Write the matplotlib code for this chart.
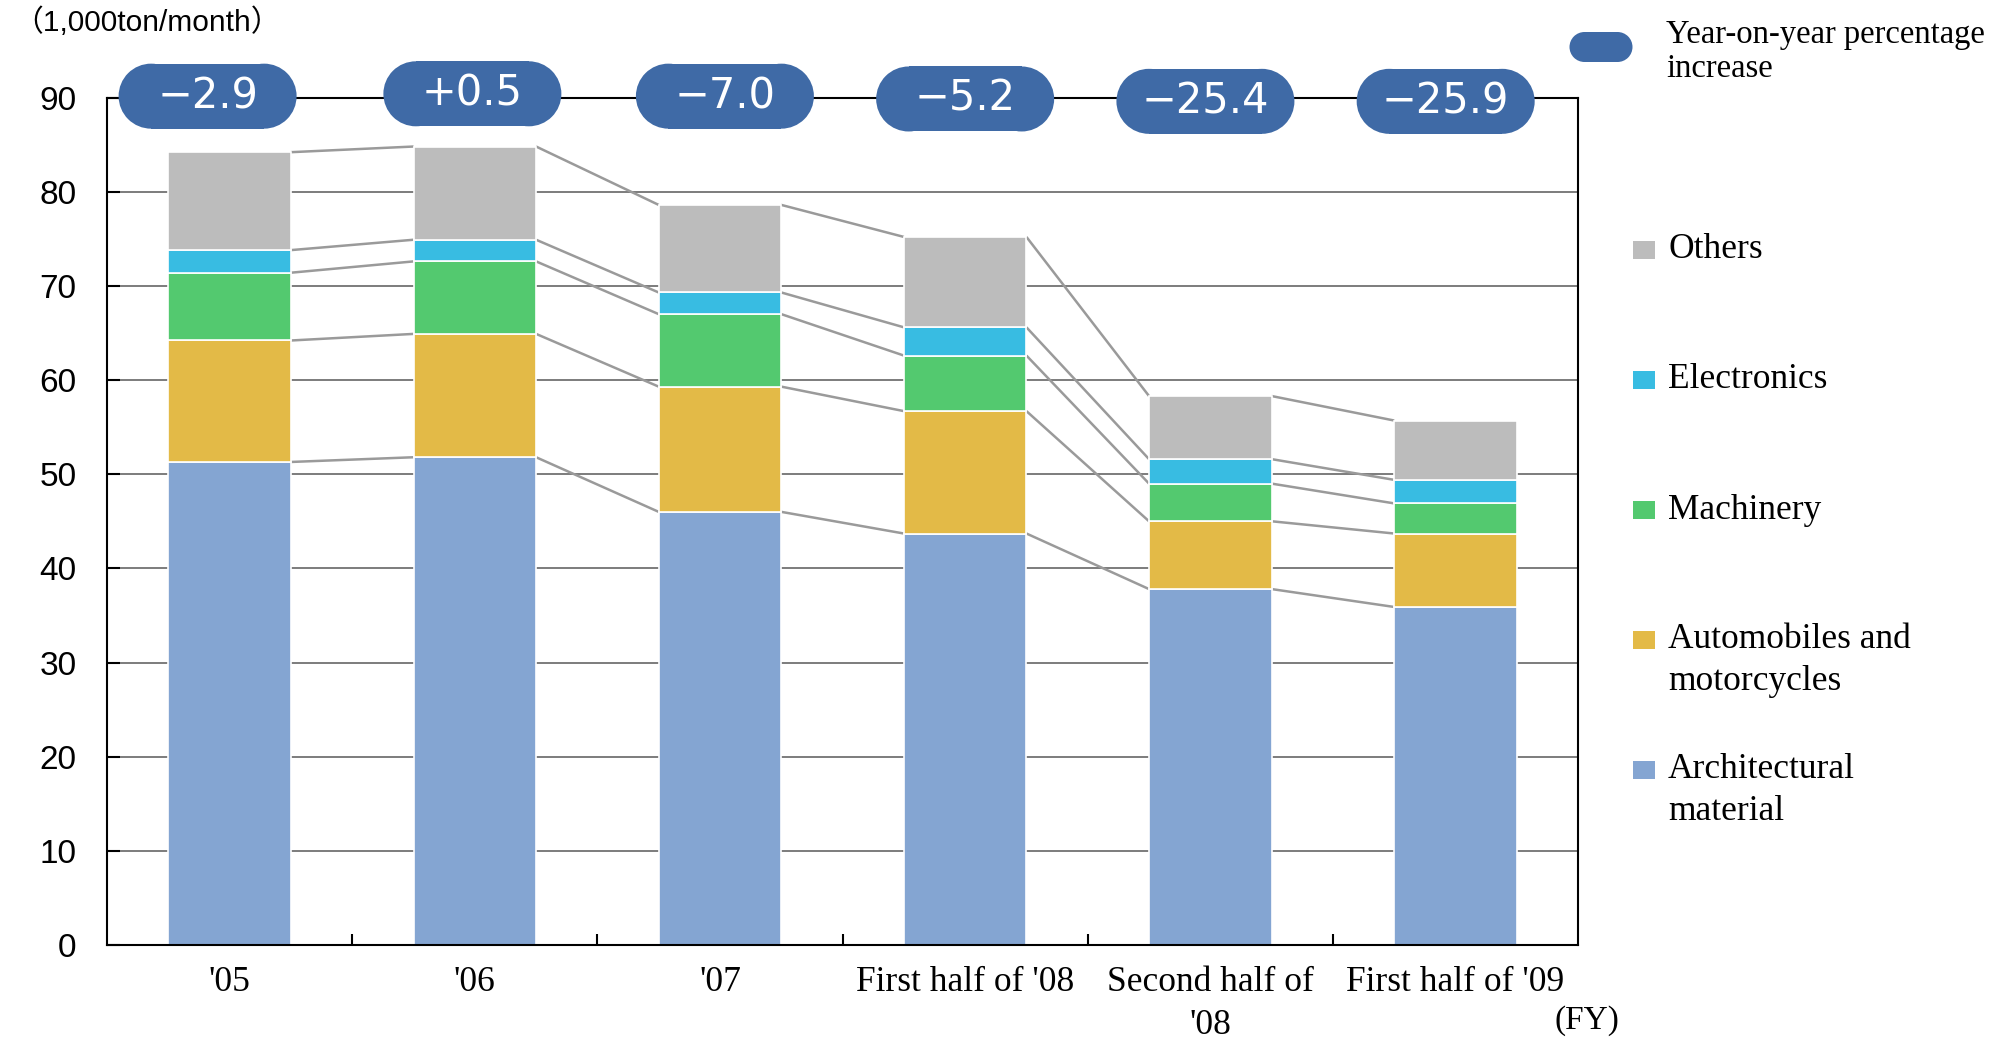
import matplotlib.pyplot as plt
from matplotlib.patches import Circle, Rectangle
from matplotlib.transforms import ScaledTranslation
import numpy as np

# monthly shipments by sector (1,000 ton/month)
periods = ["'05", "'06", "'07", "First half of '08", "Second half of\n'08", "First half of '09"]
architectural = [51.3, 51.8, 46.0, 43.7, 37.8, 35.9]
automobiles = [12.9, 13.1, 13.3, 13.0, 7.2, 7.8]
machinery = [7.2, 7.7, 7.7, 5.9, 4.0, 3.2]
electronics = [2.4, 2.3, 2.3, 3.0, 2.6, 2.5]
others = [10.4, 9.9, 9.3, 9.6, 6.7, 6.3]
yoy_change = ["−2.9", "+0.5", "−7.0", "−5.2", "−25.4", "−25.9"]

series = [architectural, automobiles, machinery, electronics, others]
names = ["Architectural\nmaterial", "Automobiles and\nmotorcycles", "Machinery", "Electronics", "Others"]
colors = ["#84a5d2", "#e3ba47", "#53c96f", "#38bce2", "#bcbcbc"]
badge_color = "#3f6aa6"

# small hand nudges for the badges (data units)
badge_dx = [-0.09, -0.01, 0.02, 0.0, -0.02, -0.04]
badge_dy = [0.15, 0.4, 0.15, -0.15, -0.4, -0.4]

sans = ["Liberation Sans", "DejaVu Sans"]
serif = ["Liberation Serif", "DejaVu Serif"]


def add_pill(target, trans, w, h, color, z):
    # stadium shape in inch units: a rectangle with two round ends
    r = h / 2
    parts = [Rectangle((-w / 2 + r, -r), w - 2 * r, h),
             Circle((-w / 2 + r, 0), r), Circle((w / 2 - r, 0), r)]
    for p in parts:
        p.set_transform(trans)
        p.set_facecolor(color)
        p.set_edgecolor("none")
        p.set_zorder(z)
        p.set_clip_on(False)
        target(p)


fig = plt.figure(figsize=(20.09, 10.48), dpi=100)
ax = fig.add_axes([0.0533, 0.0983, 0.7322, 0.8086])

x = np.arange(len(periods))
bw = 0.5
bottom = np.zeros(len(periods))
tops = []
for vals, col in zip(series, colors):
    ax.bar(x, vals, bw, bottom=bottom, color=col, edgecolor="white", linewidth=1.2, zorder=2)
    bottom = bottom + np.array(vals)
    tops.append(bottom.copy())

# connector lines between segment tops of neighbouring bars
for t in tops:
    for i in range(len(x) - 1):
        ax.plot([x[i] + bw / 2, x[i + 1] - bw / 2], [t[i], t[i + 1]],
                color="#9a9a9a", lw=1.8, zorder=1.5, solid_capstyle="butt")

ax.set_xlim(-0.5, len(x) - 0.5)
ax.set_ylim(0, 90)
ax.set_yticks(range(0, 91, 10))
ax.yaxis.grid(True, color="#666666", lw=1.2)
ax.set_axisbelow(True)
for s in ax.spines.values():
    s.set_linewidth(1.5)
    s.set_color("black")

ax.tick_params(axis="y", direction="in", length=9, width=1.5, pad=22, labelsize=24)
for lab in ax.get_yticklabels():
    lab.set_family(sans)

ax.set_xticks(x)
ax.set_xticklabels(periods, fontsize=25.5, family=serif, linespacing=1.4)
ax.tick_params(axis="x", which="major", length=0, pad=15)
ax.set_xticks(x[:-1] + 0.5, minor=True)
ax.tick_params(axis="x", which="minor", direction="in", length=8, width=1.5)

# year-on-year badges sitting on the top frame line
for i, lbl in enumerate(yoy_change):
    cx, cy = x[i] + badge_dx[i], 90 + badge_dy[i]
    tr = fig.dpi_scale_trans + ScaledTranslation(cx, cy, ax.transData)
    add_pill(ax.add_patch, tr, 1.78, 0.65, badge_color, 5)
    ax.text(cx, cy, lbl, ha="center", va="center", color="white",
            fontsize=30, family="DejaVu Sans", zorder=6, clip_on=False)

# unit and fiscal year captions
fig.text(13 / 2009, 1 - 22 / 1048, "（1,000ton/month）", ha="left", va="center",
         fontsize=21.5, family=["Liberation Sans", "Noto Sans CJK JP"])
fig.text(1587 / 2009, 1 - 1021 / 1048, "(FY)", ha="center", va="center",
         fontsize=24, family=serif)

# legend
W, H = 2009, 1048
leg_tr = fig.dpi_scale_trans + ScaledTranslation(16.01, 10.01, fig.dpi_scale_trans)
add_pill(fig.patches.append, leg_tr, 0.63, 0.30, badge_color, 1)
fig.text(1666 / W, 1 - 35 / H, "Year-on-year percentage", ha="left", va="center",
         fontsize=23.5, family=serif)
fig.text(1666 / W, 1 - 69 / H, "increase", ha="left", va="center",
         fontsize=23.5, family=serif)

legend_y = [250, 380, 510, 640, 770]
for yc, name, col in zip(legend_y, names[::-1], colors[::-1]):
    fig.patches.append(Rectangle((1633 / W, 1 - (yc + 9) / H), 22 / W, 18 / H,
                                 transform=fig.transFigure, facecolor=col, edgecolor="none"))
    lines = name.split("\n")
    for k, ln in enumerate(lines):
        fig.text(1668 / W, 1 - (yc + 41 * k) / H, ln, ha="left", va="center",
                 fontsize=25.5, family=serif)

fig.savefig("out.png", dpi=100)
